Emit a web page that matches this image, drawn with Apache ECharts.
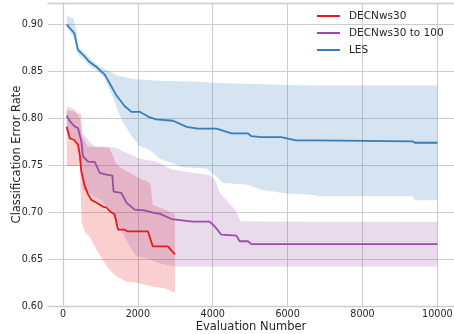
<!DOCTYPE html>
<html>
<head>
<meta charset="utf-8">
<script src="https://cdn.jsdelivr.net/npm/echarts@6/dist/echarts.min.js"></script>
<style>
  html, body { margin: 0; padding: 0; background: #fff; }
  #chart { width: 454px; height: 334px; }
</style>
</head>
<body>
<div id="chart"></div>
<script>
// Tick positions
const xTicks = [0, 2000, 4000, 6000, 8000, 10000];
const yTicks = [0.60, 0.65, 0.70, 0.75, 0.80, 0.85, 0.90];

// DECNws30: mean error and band
const decnLine = [[100,0.791],[180,0.779],[300,0.777],[400,0.772],[450,0.761],[490,0.744],[580,0.728],[670,0.719],[760,0.713],[900,0.710],[1060,0.706],[1160,0.705],[1250,0.701],[1380,0.6975],[1470,0.6815],[1640,0.6815],[1720,0.6795],[2270,0.6795],[2400,0.6635],[2800,0.6635],[2990,0.655]];
const decnUpper = [[100,0.809],[300,0.8075],[420,0.805],[480,0.805],[500,0.782],[650,0.770],[1250,0.7685],[1420,0.752],[1550,0.747],[2000,0.737],[2330,0.731],[2400,0.708],[2990,0.698]];
const decnLower = [[100,0.749],[450,0.749],[480,0.710],[500,0.6885],[600,0.678],[710,0.674],[850,0.6635],[1000,0.653],[1200,0.6405],[1430,0.6315],[1690,0.626],[2000,0.6245],[2360,0.621],[2720,0.619],[2990,0.614]];

// DECNws30 to 100: mean error and band
const decn100Line = [[100,0.803],[180,0.797],[310,0.7915],[400,0.7897],[490,0.7755],[535,0.7595],[670,0.754],[850,0.7535],[980,0.742],[1160,0.740],[1320,0.739],[1350,0.722],[1560,0.7205],[1700,0.710],[1915,0.7027],[2180,0.702],[2450,0.699],[2580,0.6985],[2900,0.6927],[3470,0.690],[3920,0.690],[4050,0.685],[4230,0.676],[4630,0.675],[4720,0.669],[4940,0.669],[5030,0.666],[10000,0.666]];
const decn100Upper = [[100,0.813],[300,0.810],[450,0.800],[520,0.785],[700,0.775],[850,0.770],[1150,0.770],[1430,0.7685],[1700,0.763],[2050,0.757],[2500,0.754],[2900,0.7455],[3450,0.742],[3900,0.740],[4050,0.735],[4200,0.720],[4600,0.703],[4750,0.690],[10000,0.6895]];
const decn100Lower = [[100,0.785],[400,0.775],[480,0.740],[534,0.724],[1000,0.713],[1336,0.699],[1470,0.6885],[1780,0.6635],[1960,0.653],[2320,0.6495],[2580,0.6455],[2980,0.642],[10000,0.642]];

// LES: mean error and band
const lesLine = [[100,0.900],[300,0.891],[400,0.873],[580,0.866],[710,0.860],[890,0.855],[1110,0.847],[1420,0.825],[1650,0.813],[1830,0.807],[2050,0.807],[2320,0.801],[2490,0.799],[2940,0.7975],[3300,0.791],[3600,0.789],[4100,0.789],[4500,0.784],[4940,0.784],[5030,0.781],[5300,0.780],[5830,0.780],[6010,0.7785],[6230,0.7765],[6750,0.7765],[6800,0.7755],[9340,0.7755],[9400,0.774],[10000,0.774]];
const lesUpper = [[100,0.9095],[270,0.907],[360,0.8945],[400,0.877],[630,0.868],[800,0.861],[980,0.8555],[1430,0.846],[1870,0.842],[2580,0.840],[3650,0.839],[4000,0.838],[6000,0.8356],[6750,0.835],[10000,0.835]];
const lesLower = [[100,0.897],[300,0.886],[400,0.868],[580,0.862],[710,0.856],[890,0.851],[1110,0.843],[1300,0.826],[1550,0.800],[1800,0.783],[2050,0.770],[2320,0.7665],[2580,0.757],[2940,0.752],[3200,0.748],[3830,0.7465],[4100,0.738],[4270,0.731],[4900,0.7295],[5080,0.727],[5300,0.724],[6000,0.720],[6750,0.718],[6800,0.717],[9340,0.717],[9400,0.7126],[10000,0.7126]];

const RED = '#e41a1c', PURPLE = '#984ea3', BLUE = '#377eb8';
const GRID = '#cccccc', TEXT = '#262626', FONT = 'DejaVu Sans';

// Filled band between an upper and a lower curve, drawn as one polygon
function bandSeries(upper, lower, color) {
  const outline = upper.concat(lower.slice().reverse());
  return {
    type: 'custom',
    silent: true,
    z: 1,
    data: [outline[0]],
    renderItem: function (params, api) {
      const pts = outline.map(p => api.coord(p));
      return {
        type: 'polygon',
        shape: { points: pts },
        style: { fill: color, opacity: 0.21 }
      };
    }
  };
}

function lineSeries(name, data, color) {
  return {
    name: name,
    type: 'line',
    data: data,
    z: 3,
    symbol: 'none',
    lineStyle: { color: color, width: 1.8 },
    itemStyle: { color: color }
  };
}

const chart = echarts.init(document.getElementById('chart'), null, { renderer: 'canvas' });
chart.setOption({
  animation: false,
  backgroundColor: '#ffffff',
  textStyle: { fontFamily: FONT },
  grid: { left: 48, right: 0, top: 3, bottom: 28, containLabel: false, outerBoundsMode: 'none' },
  legend: {
    orient: 'vertical',
    left: 317,
    top: 9,
    padding: 0,
    icon: 'rect',
    itemWidth: 23,
    itemHeight: 2,
    itemGap: 3,
    textStyle: { fontFamily: FONT, fontSize: 10.5, color: TEXT, lineHeight: 14, padding: [0, 0, 0, 4] },
    data: ['DECNws30', 'DECNws30 to 100', 'LES']
  },
  xAxis: [{
    type: 'value',
    min: -400,
    max: 10444,
    name: 'Evaluation Number',
    nameLocation: 'middle',
    nameGap: 15,
    nameMoveOverlap: false,
    nameTextStyle: { fontFamily: FONT, fontSize: 11.5, color: TEXT },
    axisLine: { show: true, lineStyle: { color: GRID, width: 1.3 } },
    axisTick: { show: false, customValues: xTicks },
    axisLabel: { customValues: xTicks, fontFamily: FONT, fontSize: 9.6, color: TEXT, margin: 3,
      formatter: v => String(v) },
    splitLine: { show: true, lineStyle: { color: GRID, width: 1 } }
  }, {
    type: 'value',
    position: 'top',
    min: -400,
    max: 10444,
    axisLine: { show: true, lineStyle: { color: GRID, width: 1.3 } },
    axisTick: { show: false },
    axisLabel: { show: false },
    splitLine: { show: false }
  }],
  yAxis: {
    type: 'value',
    min: 0.6,
    max: 0.923,
    name: 'Classification Error Rate',
    nameLocation: 'middle',
    nameGap: 25,
    nameMoveOverlap: false,
    nameTextStyle: { fontFamily: FONT, fontSize: 11.5, color: TEXT },
    axisLine: { show: true, lineStyle: { color: GRID, width: 1.3 } },
    axisTick: { show: false, customValues: yTicks },
    axisLabel: { customValues: yTicks, fontFamily: FONT, fontSize: 9.6, color: TEXT, margin: 5,
      formatter: v => v.toFixed(2) },
    splitLine: { show: true, lineStyle: { color: GRID, width: 1 } }
  },
  series: [
    bandSeries(decnUpper, decnLower, RED),
    bandSeries(decn100Upper, decn100Lower, PURPLE),
    bandSeries(lesUpper, lesLower, BLUE),
    lineSeries('DECNws30', decnLine, RED),
    lineSeries('DECNws30 to 100', decn100Line, PURPLE),
    lineSeries('LES', lesLine, BLUE)
  ]
});
</script>
</body>
</html>
